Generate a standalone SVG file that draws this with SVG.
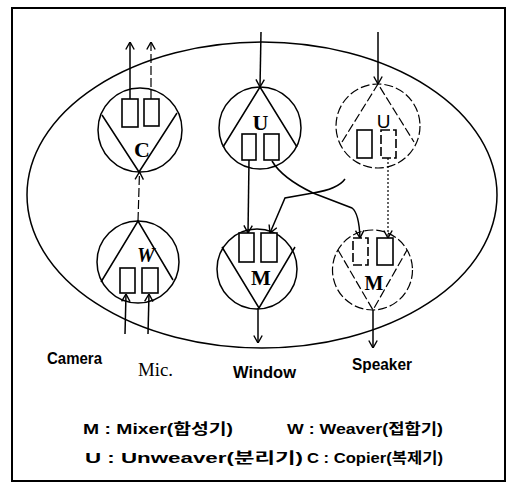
<svg xmlns="http://www.w3.org/2000/svg" width="510" height="485" viewBox="0 0 510 485">
<defs>
<style>
.ln{stroke:#000;stroke-width:1.5;fill:none}
.dash{stroke-dasharray:9 3;stroke-width:1.2}
.dot{stroke-dasharray:2 2;stroke-width:1.2}
.bx{fill:#fff;stroke:#000;stroke-width:1.6}
.ltr{font-family:"Liberation Serif","Times New Roman",serif;font-weight:bold;text-anchor:middle;fill:#000}
.lbl{font-family:"Liberation Sans",Arial,"Noto Sans CJK KR",sans-serif;font-weight:bold;font-size:16px;fill:#000}
.leg{font-family:"Liberation Sans",Arial,"Noto Sans CJK KR",sans-serif;font-weight:bold;font-size:15px;fill:#000}
</style>
<marker id="ah" viewBox="0 0 8 10" refX="8" refY="5" markerWidth="8" markerHeight="10" markerUnits="userSpaceOnUse" orient="auto">
<path d="M0.5,0.8 L8,5 L0.5,9.2" fill="none" stroke="#000" stroke-width="1.4"/>
</marker>
</defs>
<rect width="510" height="485" fill="#fff"/>
<rect x="12" y="8" width="493" height="473" fill="none" stroke="#000" stroke-width="2"/>
<ellipse cx="262" cy="195" rx="235" ry="153" fill="none" stroke="#000" stroke-width="1.5"/>

<g id="copier">
<circle cx="140" cy="130" r="42" class="ln"/>
<polyline points="102,115 139,172 177,113" class="ln"/>
<rect x="122" y="99" width="16" height="28" class="bx"/>
<rect x="144" y="99" width="15" height="27" class="bx"/>
<text x="142" y="157" class="ltr" font-size="22">C</text>
</g>

<g id="weaver">
<circle cx="138" cy="262" r="41" class="ln"/>
<polyline points="101,282 138,221 173,280" class="ln"/>
<rect x="120" y="268" width="15" height="25" class="bx"/>
<rect x="142" y="268" width="16" height="25" class="bx"/>
<text x="146" y="262" class="ltr" font-size="20" font-style="italic">W</text>
</g>

<g id="unweaver1">
<circle cx="260" cy="128" r="41" class="ln"/>
<polyline points="223,147 260,87 297,147" class="ln"/>
<rect x="242" y="134" width="14" height="26" class="bx"/>
<rect x="264" y="134" width="15" height="26" class="bx"/>
<text x="260.5" y="130" class="ltr" font-size="22">U</text>
</g>

<g id="unweaver2">
<circle cx="378" cy="126" r="42" class="ln dash"/>
<polyline points="342,142 378,84 414,142" class="ln dash"/>
<rect x="357" y="130" width="15" height="28" class="bx"/>
<rect x="381" y="130" width="15" height="28" class="bx dash"/>
<text x="383.5" y="128" font-family="Liberation Sans,Arial,sans-serif" font-size="19" text-anchor="middle">U</text>
</g>

<g id="mixer1">
<circle cx="257" cy="269" r="40" class="ln"/>
<polyline points="222,247 259,308 295,247" class="ln"/>
<rect x="239" y="233" width="15" height="29" class="bx"/>
<rect x="261" y="233" width="16" height="29" class="bx"/>
<text x="261" y="285" class="ltr" font-size="21">M</text>
</g>

<g id="mixer2">
<circle cx="372.5" cy="270" r="40" class="ln dash"/>
<polyline points="338,250 373,310 407,250" class="ln dash"/>
<rect x="353" y="238" width="15" height="27" class="bx dash"/>
<rect x="377" y="238" width="16" height="27" class="bx"/>
<text x="374" y="290" class="ltr" font-size="20">M</text>
</g>

<g id="connectors">
<line x1="130" y1="99" x2="130" y2="42" class="ln" marker-end="url(#ah)"/>
<line x1="151" y1="99" x2="151" y2="42" class="ln dash" marker-end="url(#ah)"/>
<line x1="138" y1="221" x2="139.5" y2="172" class="ln dash" marker-end="url(#ah)"/>
<line x1="125" y1="334" x2="126" y2="294" class="ln" marker-end="url(#ah)"/>
<line x1="148" y1="334" x2="149" y2="294" class="ln" marker-end="url(#ah)"/>
<line x1="261" y1="32" x2="260" y2="87" class="ln" marker-end="url(#ah)"/>
<line x1="378" y1="32" x2="378" y2="84" class="ln" marker-end="url(#ah)"/>
<line x1="249" y1="160" x2="248" y2="233" class="ln" marker-end="url(#ah)"/>
<path d="M272,161 Q282,178 313,193 L352,208 Q359,213 360,238" class="ln" marker-end="url(#ah)"/>
<path d="M345,179 Q338,189 313,193 L285,198 L270,233" class="ln" marker-end="url(#ah)"/>
<line x1="388" y1="158" x2="388" y2="238" class="ln dot" marker-end="url(#ah)"/>
<line x1="258" y1="308" x2="258" y2="343" class="ln" marker-end="url(#ah)"/>
<line x1="373" y1="310" x2="373" y2="348" class="ln" marker-end="url(#ah)"/>
</g>

<text x="47" y="364" class="lbl" textLength="55" lengthAdjust="spacingAndGlyphs">Camera</text>
<text x="138" y="376" font-family="Liberation Serif,Times New Roman,serif" font-size="19" textLength="35" lengthAdjust="spacingAndGlyphs">Mic.</text>
<text x="233" y="378" class="lbl" textLength="63" lengthAdjust="spacingAndGlyphs">Window</text>
<text x="352" y="370" class="lbl" textLength="60" lengthAdjust="spacingAndGlyphs">Speaker</text>

<text x="83" y="434" class="leg" textLength="150" lengthAdjust="spacingAndGlyphs">M : Mixer(합성기)</text>
<text x="287" y="434" class="leg" textLength="156" lengthAdjust="spacingAndGlyphs">W : Weaver(접합기)</text>
<text x="85" y="463" class="leg" textLength="218" lengthAdjust="spacingAndGlyphs">U : Unweaver(분리기)</text>
<text x="307" y="463" class="leg" textLength="136" lengthAdjust="spacingAndGlyphs">C : Copier(복제기)</text>
</svg>
